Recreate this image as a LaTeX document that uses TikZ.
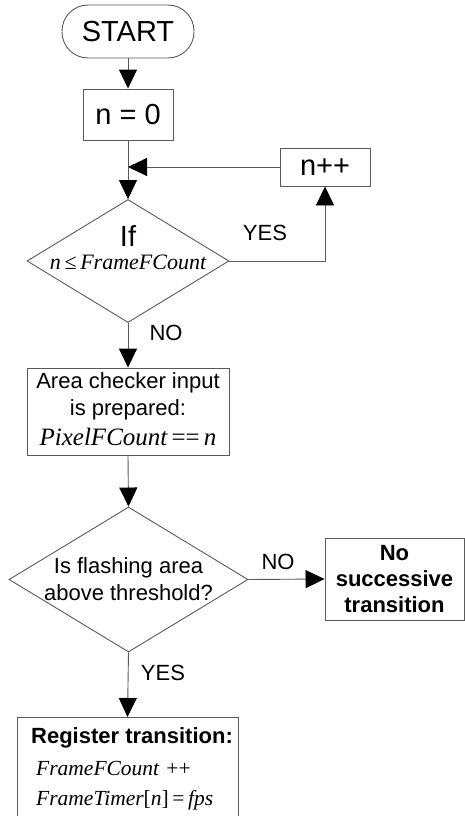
\documentclass[tikz,border=0pt]{standalone}
\usepackage{fontspec}
\setmainfont{Liberation Sans}
\newfontfamily\tms{Liberation Serif}
\usetikzlibrary{shapes.geometric,arrows.meta}
\definecolor{ln}{HTML}{5A5A5A}
\tikzset{
  box/.style={draw=ln, line width=0.9pt, rectangle, inner sep=0pt},
  dia/.style={draw=ln, line width=0.9pt, diamond, inner sep=0pt},
  conn/.style={draw=ln, line width=0.9pt},
  arr/.style={conn, -{Triangle[length=19pt,width=18pt,fill=black,color=black]}},
  big/.style={font=\fontsize{29}{34}\selectfont},
  mid/.style={font=\fontsize{22}{27}\selectfont, align=center},
  lbl/.style={font=\fontsize{22}{26}\selectfont, inner sep=0pt},
}
\newcommand{\mi}[1]{{\tms\itshape #1}}
\begin{document}
\begin{tikzpicture}[x=1pt,y=-1pt]
\useasboundingbox (0,0) rectangle (465,816);
\fill[white] (0,0) rectangle (465,816);
% nodes
\node[box, rounded corners=26pt, minimum width=132pt, minimum height=53pt, big] (start) at (128,31.5) {START};
\node[box, minimum width=90pt, minimum height=51pt, big] (n0) at (128,114.5) {n = 0};
\coordinate (j) at (128,167);
\node[box, minimum width=90pt, minimum height=38pt, big] (np) at (325,167) {n++};
\node[dia, minimum width=202pt, minimum height=123pt] (d1) at (128,261) {};
\node[big, inner sep=0pt] (d1a) at (128,236) {If};
\node[font=\fontsize{22}{27}\selectfont, inner sep=0pt] (d1b) at (128,262) {\mi{n}\,{\tms ≤}\,\mi{FrameFCount}};
\node[box, minimum width=202pt, minimum height=87pt] (area) at (128,411.5) {};
\node[mid, inner sep=0pt] (areat) at (128,396) {Area checker input\\is prepared:};
\node[font=\fontsize{25}{28}\selectfont, inner sep=0pt] (areaf) at (128,437) {\mi{PixelFCount}\,{\tms ==}\,\mi{n}};
\node[dia, minimum width=239pt, minimum height=145pt] (d2) at (128.5,579.5) {};
\node[mid, inner sep=0pt] (d2t) at (128.5,579) {Is flashing area\\above threshold?};
\node[box, minimum width=139pt, minimum height=82pt, mid, font=\fontsize{22}{26}\selectfont\bfseries] (ns) at (394.5,579) {No\\successive\\transition};
\node[box, minimum width=221pt, minimum height=115pt, anchor=north] (reg) at (127.5,717) {};
\node[font=\fontsize{22}{26}\selectfont\bfseries, inner sep=0pt] (regt) at (132,738) {Register transition:};
\node[font=\fontsize{21.5}{26}\selectfont, inner sep=0pt, anchor=west] (regf1) at (36,768) {\mi{FrameFCount}\,\,{\tms ++}};
\node[font=\fontsize{21.5}{26}\selectfont, inner sep=0pt, anchor=west] (regf2) at (36,800) {\mi{FrameTimer}{\tms [}\mi{n}{\tms ]}\,{\tms =}\,\mi{fps}};
% connectors
\draw[arr] (start) -- (n0);
\draw[conn] (n0) -- (j);
\draw[arr] (np.west) -- (j);
\draw[arr] (j) -- (d1.north);
\draw[arr] (d1.east) -| (np.south);
\draw[arr] (d1.south) -- (area.north);
\draw[arr] (area.south) -- (d2.north);
\draw[arr] (d2.east) -- (ns.west);
\draw[arr] (d2.south) -- (reg.north);
% labels
\node[lbl] (yes1) at (265,233) {YES};
\node[lbl] (no1) at (166,333) {NO};
\node[lbl] (no2) at (278,562) {NO};
\node[lbl] (yes2) at (163,673) {YES};
\end{tikzpicture}
\end{document}
